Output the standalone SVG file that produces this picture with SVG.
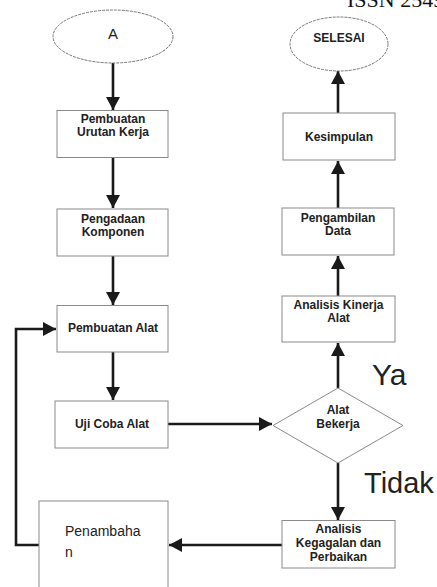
<svg xmlns="http://www.w3.org/2000/svg" width="437" height="587" viewBox="0 0 437 587">
<style>
.box{fill:#fff;stroke:#8a8a8a;stroke-width:1}
.term{fill:#fff;stroke:#777;stroke-width:1;stroke-dasharray:3,1}
.t{font-family:"Liberation Sans",Arial,sans-serif;font-weight:bold;font-size:12px;fill:#222;text-anchor:middle}
.n{font-family:"Liberation Sans",Arial,sans-serif;fill:#222}
.c{fill:none;stroke:#1a1a1a;stroke-width:2.6}
</style>
<defs>
<marker id="ah" markerUnits="userSpaceOnUse" markerWidth="14" markerHeight="14" refX="13" refY="7" orient="auto">
<path d="M0,0 L13,7 L0,14 z" fill="#1a1a1a"/>
</marker>
</defs>
<rect width="437" height="587" fill="#fff"/>
<text x="347" y="7" font-family="'Liberation Serif',serif" font-size="22" fill="#111">ISSN 2549</text>

<g id="connectors">
<line class="c" x1="113" y1="63" x2="113" y2="110" marker-end="url(#ah)"/>
<line class="c" x1="113" y1="158" x2="113" y2="208" marker-end="url(#ah)"/>
<line class="c" x1="113" y1="256" x2="113" y2="305" marker-end="url(#ah)"/>
<line class="c" x1="113" y1="352" x2="113" y2="400" marker-end="url(#ah)"/>
<line class="c" x1="168" y1="424" x2="272" y2="424" marker-end="url(#ah)"/>
<line class="c" x1="338" y1="388" x2="338" y2="343" marker-end="url(#ah)"/>
<line class="c" x1="338" y1="296" x2="338" y2="256" marker-end="url(#ah)"/>
<line class="c" x1="338" y1="208" x2="338" y2="161" marker-end="url(#ah)"/>
<line class="c" x1="338" y1="113" x2="338" y2="71" marker-end="url(#ah)"/>
<line class="c" x1="338" y1="463" x2="338" y2="520" marker-end="url(#ah)"/>
<line class="c" x1="282" y1="545" x2="169" y2="545" marker-end="url(#ah)"/>
<polyline class="c" points="39,545 16,545 16,329 56,329" marker-end="url(#ah)"/>
</g>

<g id="start">
<ellipse class="term" cx="113" cy="36.5" rx="60" ry="26.5"/>
<text class="n" x="113" y="39" font-size="15" text-anchor="middle">A</text>
</g>
<g id="urutan">
<rect class="box" x="57" y="110.5" width="111" height="47"/>
<text class="t" x="113" y="123">Pembuatan</text>
<text class="t" x="113" y="136">Urutan Kerja</text>
</g>
<g id="pengadaan">
<rect class="box" x="57" y="209" width="111" height="47"/>
<text class="t" x="113" y="223">Pengadaan</text>
<text class="t" x="113" y="236">Komponen</text>
</g>
<g id="pembuatan-alat">
<rect class="box" x="57" y="305.5" width="111" height="46.5"/>
<text class="t" x="113" y="332">Pembuatan Alat</text>
</g>
<g id="uji-coba">
<rect class="box" x="55" y="401" width="113" height="47"/>
<text class="t" x="112" y="428">Uji Coba Alat</text>
</g>
<g id="penambahan">
<rect class="box" x="39" y="501" width="129" height="100" stroke="#aaa"/>
<text class="n" x="65" y="536" font-size="14">Penambaha</text>
<text class="n" x="65" y="557" font-size="14">n</text>
</g>
<g id="keputusan">
<polygon class="box" points="338,388 403,425.5 338,463 273,425.5"/>
<text class="t" x="338" y="414">Alat</text>
<text class="t" x="338" y="428">Bekerja</text>
</g>
<g id="kegagalan">
<rect class="box" x="282" y="520.5" width="113" height="47.5"/>
<text class="t" x="338.5" y="533">Analisis</text>
<text class="t" x="338.5" y="547">Kegagalan dan</text>
<text class="t" x="338.5" y="561">Perbaikan</text>
</g>
<g id="kinerja">
<rect class="box" x="282" y="296" width="113" height="46"/>
<text class="t" x="338.5" y="309">Analisis Kinerja</text>
<text class="t" x="338.5" y="322">Alat</text>
</g>
<g id="pengambilan">
<rect class="box" x="282" y="208" width="112" height="47"/>
<text class="t" x="338" y="222">Pengambilan</text>
<text class="t" x="338" y="235">Data</text>
</g>
<g id="kesimpulan">
<rect class="box" x="283" y="113" width="112" height="47"/>
<text class="t" x="339" y="141">Kesimpulan</text>
</g>
<g id="selesai">
<ellipse class="term" cx="339" cy="44" rx="49" ry="27"/>
<text class="t" x="339" y="42" font-size="11">SELESAI</text>
</g>
<text class="n" x="372" y="385" font-size="30">Ya</text>
<text class="n" x="364" y="493" font-size="29">Tidak</text>
</svg>
